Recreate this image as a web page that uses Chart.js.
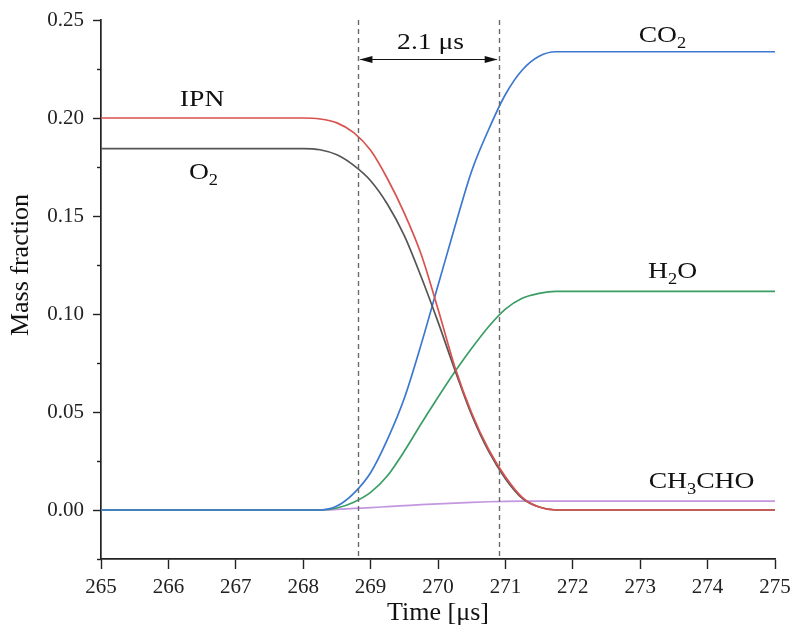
<!DOCTYPE html>
<html>
<head>
<meta charset="utf-8">
<script src="https://cdn.jsdelivr.net/npm/chart.js@4/dist/chart.umd.min.js"></script>
<style>
  html, body { margin: 0; padding: 0; background: #fff; }
  #wrap { width: 792px; height: 632px; }
</style>
</head>
<body>
<div id="wrap"><canvas id="chart" width="792" height="632"></canvas></div>
<script>
// time samples [µs]
const time = [265, 268, 268.25, 268.5, 268.75, 269, 269.25, 269.5, 269.75, 270, 270.25, 270.5, 270.75, 271, 271.25, 271.5, 271.75, 272, 275];

const ipn    = [0.2, 0.2, 0.1995, 0.1975, 0.1925, 0.1835, 0.169, 0.1515, 0.1305, 0.1025, 0.073, 0.0495, 0.031, 0.017, 0.0065, 0.0015, 0, 0, 0];
const o2     = [0.1844, 0.1844, 0.1838, 0.1812, 0.1758, 0.168, 0.156, 0.140, 0.119, 0.096, 0.0715, 0.0485, 0.030, 0.016, 0.006, 0.0015, 0, 0, 0];
const co2    = [0, 0, 0, 0.002, 0.0085, 0.019, 0.036, 0.057, 0.0845, 0.1145, 0.1445, 0.173, 0.194, 0.212, 0.2245, 0.2315, 0.2338, 0.2338, 0.2338];
const h2o    = [0, 0, 0, 0.001, 0.004, 0.009, 0.0175, 0.030, 0.044, 0.0575, 0.0705, 0.0825, 0.0935, 0.1025, 0.108, 0.1105, 0.1115, 0.1115, 0.1115];
const ch3cho = [0, 0, 0, 0.0003, 0.0008, 0.0012, 0.0017, 0.0022, 0.0027, 0.0031, 0.0035, 0.0039, 0.0042, 0.0044, 0.0045, 0.0045, 0.0045, 0.0045, 0.0045];

const yTicks = [0, 0.05, 0.10, 0.15, 0.20, 0.25];
const yMinorTicks = [-0.025, 0.025, 0.075, 0.125, 0.175, 0.225];

// ignition window markers
const windowStart = 268.82;
const windowEnd = 270.9;
const windowLabel = '2.1 μs';

// curve labels: [text, subscript?] pieces
const curveLabels = [
  { parts: [['IPN', false]], t: 266.5, v: 0.2095 },
  { parts: [['O', false], ['2', true]], t: 266.52, v: 0.172 },
  { parts: [['CO', false], ['2', true]], t: 273.33, v: 0.2418 },
  { parts: [['H', false], ['2', true], ['O', false]], t: 273.48, v: 0.1214 },
  { parts: [['CH', false], ['3', true], ['CHO', false]], t: 273.91, v: 0.0143 },
];

const SERIF = '"Liberation Serif", "Times New Roman", serif';
const STRETCH = 1.15;

const pts = (vals) => time.map((t, i) => ({ x: t, y: vals[i] }));

function series(label, vals, color) {
  return {
    label,
    data: pts(vals),
    borderColor: color,
    borderWidth: 1.7,
    pointRadius: 0,
    fill: false,
    cubicInterpolationMode: 'monotone',
  };
}

// draws text pieces centred at (cx, cy), subscripts smaller and lowered
function drawParts(ctx, parts, cx, cy) {
  const main = '24px ' + SERIF;
  const sub = '16px ' + SERIF;
  let w = 0;
  parts.forEach(([txt, isSub]) => {
    ctx.font = isSub ? sub : main;
    w += ctx.measureText(txt).width;
  });
  ctx.save();
  ctx.translate(cx, cy);
  ctx.scale(STRETCH, 1);
  let x = -w / 2;
  ctx.textAlign = 'left';
  ctx.textBaseline = 'middle';
  parts.forEach(([txt, isSub]) => {
    ctx.font = isSub ? sub : main;
    ctx.fillText(txt, x, isSub ? 8 : 0);
    x += ctx.measureText(txt).width;
  });
  ctx.restore();
}

const extras = {
  id: 'extras',
  afterDraw(chart) {
    const { ctx, chartArea, scales } = chart;
    const xs = scales.x, ys = scales.y;
    ctx.save();

    // minor y ticks
    ctx.strokeStyle = '#222';
    ctx.lineWidth = 1.4;
    yMinorTicks.forEach((v) => {
      const py = Math.round(ys.getPixelForValue(v)) + 0.5;
      ctx.beginPath();
      ctx.moveTo(chartArea.left - 4, py);
      ctx.lineTo(chartArea.left, py);
      ctx.stroke();
    });

    // dashed window lines
    ctx.strokeStyle = '#6b6b6b';
    ctx.lineWidth = 1.4;
    ctx.setLineDash([5, 4]);
    [windowStart, windowEnd].forEach((t) => {
      const px = Math.round(xs.getPixelForValue(t)) + 0.5;
      ctx.beginPath();
      ctx.moveTo(px, chartArea.top);
      ctx.lineTo(px, chartArea.bottom);
      ctx.stroke();
    });
    ctx.setLineDash([]);

    // double arrow
    const x1 = xs.getPixelForValue(windowStart);
    const x2 = xs.getPixelForValue(windowEnd);
    const ay = Math.round(ys.getPixelForValue(0.2302)) + 0.5;
    ctx.strokeStyle = '#111';
    ctx.fillStyle = '#111';
    ctx.lineWidth = 1.2;
    ctx.beginPath();
    ctx.moveTo(x1 + 2, ay);
    ctx.lineTo(x2 - 2, ay);
    ctx.stroke();
    [[x1 + 1, 1], [x2 - 1, -1]].forEach(([hx, dir]) => {
      ctx.beginPath();
      ctx.moveTo(hx, ay);
      ctx.lineTo(hx + dir * 13, ay - 3.5);
      ctx.lineTo(hx + dir * 13, ay + 3.5);
      ctx.closePath();
      ctx.fill();
    });
    drawParts(ctx, [[windowLabel, false]], (x1 + x2) / 2 + 2, ys.getPixelForValue(0.2382));

    // curve labels
    curveLabels.forEach((l) => {
      drawParts(ctx, l.parts, xs.getPixelForValue(l.t), ys.getPixelForValue(l.v));
    });

    // y axis title
    ctx.save();
    ctx.translate(21, ys.getPixelForValue(0.125));
    ctx.rotate(-Math.PI / 2);
    ctx.font = '26px ' + SERIF;
    ctx.textAlign = 'center';
    ctx.textBaseline = 'middle';
    ctx.fillText('Mass fraction', 0, 0);
    ctx.restore();

    ctx.restore();
  },
};

new Chart(document.getElementById('chart'), {
  type: 'line',
  data: {
    datasets: [
      series('IPN', ipn, '#d9524f'),
      series('O2', o2, '#555555'),
      series('CO2', co2, '#3c78d0'),
      series('H2O', h2o, '#3a9e64'),
      series('CH3CHO', ch3cho, '#c397e0'),
    ],
  },
  options: {
    responsive: false,
    animation: false,
    layout: { padding: { top: 20, right: 17, left: 0, bottom: 0 } },
    plugins: { legend: { display: false }, tooltip: { enabled: false } },
    scales: {
      x: {
        type: 'linear',
        min: 265,
        max: 275,
        afterFit: (s) => {
          s.height = 73;
          s.paddingLeft = 0;
          s.paddingRight = 0;
        },
        ticks: {
          stepSize: 1,
          color: '#222',
          padding: 6,
          font: { family: SERIF, size: 21 },
          maxRotation: 0,
        },
        grid: { drawOnChartArea: false, drawTicks: true, tickLength: 10, tickColor: '#222', tickWidth: 1.4 },
        border: { display: true, color: '#222', width: 1.7 },
        title: {
          display: true,
          text: 'Time [μs]',
          color: '#111',
          font: { family: SERIF, size: 26 },
          padding: { top: 0, bottom: 3 },
        },
      },
      y: {
        min: -0.025,
        max: 0.25,
        afterFit: (s) => {
          s.width = 101;
          s.paddingTop = 0;
          s.paddingBottom = 0;
        },
        afterBuildTicks: (s) => { s.ticks = yTicks.map((v) => ({ value: v })); },
        ticks: {
          color: '#222',
          padding: 9,
          font: { family: SERIF, size: 21 },
          callback: (v) => Number(v).toFixed(2),
        },
        grid: { drawOnChartArea: false, drawTicks: true, tickLength: 8, tickColor: '#222', tickWidth: 1.4 },
        border: { display: true, color: '#222', width: 1.7 },
      },
    },
  },
  plugins: [extras],
});
</script>
</body>
</html>
